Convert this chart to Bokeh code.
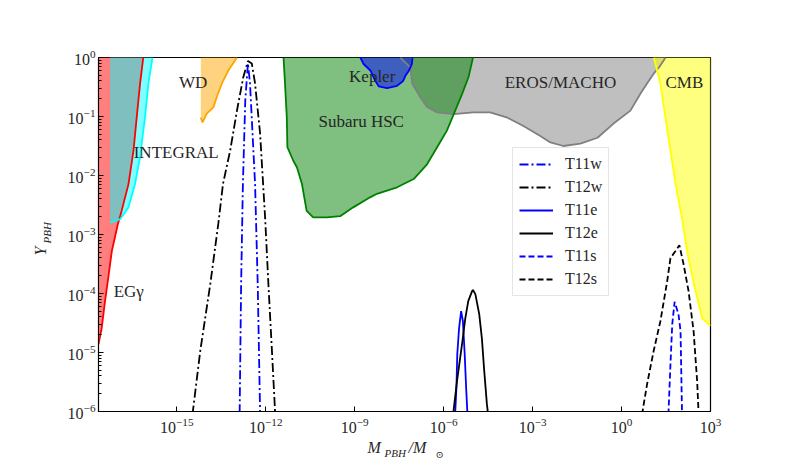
import math
from bokeh.plotting import figure
from bokeh.models import Label, Legend, LegendItem, FixedTicker, Range1d
from bokeh.embed import file_html
from bokeh.resources import INLINE

# ---------------- data (log10 of M_PBH/M_sun, log10 of Y_PBH) ----------------
x_log_range = (-17.64, 3.0)
y_log_range = (-6.0, 0.0)
x_major_exp = [-15, -12, -9, -6, -3, 0, 3]
y_major_exp = [-6, -5, -4, -3, -2, -1, 0]

egg_lx = [-17.64, -17.53, -17.42, -17.31, -17.19, -16.99, -16.86, -16.63, -16.46, -16.35, -16.24, -16.13]
egg_ly = [-4.86, -4.58, -4.13, -3.73, -3.28, -2.83, -2.60, -2.15, -1.58, -1.01, -0.45, 0.0]

integral_lx = [-17.25, -16.91, -16.63, -16.41, -16.24, -16.07, -15.96, -15.82]
integral_ly = [-2.80, -2.74, -2.54, -2.15, -1.69, -1.01, -0.45, 0.0]

wd_lx = [-14.19, -14.13, -13.99, -13.76, -13.65, -13.48, -13.26, -12.97]
wd_ly = [-1.02, -1.10, -0.95, -0.84, -0.67, -0.44, -0.22, 0.0]

hsc_lx = [-11.40, -11.35, -11.29, -11.27, -11.07, -10.95, -10.78, -10.70, -10.62, -10.40, -9.94, -9.49,
          -9.05, -8.48, -8.25, -7.57, -7.01, -6.56, -6.22, -5.89, -5.61, -5.38, -5.16, -5.01]
hsc_ly = [0.0, -0.44, -1.01, -1.52, -1.75, -1.86, -2.14, -2.37, -2.60, -2.71, -2.71, -2.69,
          -2.54, -2.37, -2.31, -2.20, -2.06, -1.81, -1.52, -1.24, -0.90, -0.62, -0.33, 0.0]

kepler_lx = [-8.81, -8.70, -8.47, -8.31, -8.19, -7.91, -7.57, -7.37, -7.29, -7.18, -7.07, -7.05]
kepler_ly = [0.0, -0.11, -0.22, -0.39, -0.49, -0.52, -0.48, -0.40, -0.31, -0.23, -0.11, 0.0]

eros_lx = [-7.46, -7.12, -7.06, -6.79, -6.56, -6.22, -5.66, -5.00, -4.43, -3.85, -3.31, -2.74,
           -2.40, -1.96, -1.39, -0.81, -0.27, 0.30, 0.64, 0.86, 1.09, 1.26, 1.42, 1.48]
eros_ly = [0.0, -0.17, -0.44, -0.67, -0.84, -0.93, -0.96, -0.93, -0.93, -1.02, -1.16, -1.33,
           -1.44, -1.50, -1.46, -1.36, -1.12, -0.90, -0.61, -0.44, -0.27, -0.17, -0.05, 0.0]

cmb_lx = [1.09, 1.31, 1.48, 1.65, 1.82, 2.04, 2.21, 2.44, 2.72, 3.0]
cmb_ly = [0.0, -0.44, -1.02, -1.58, -2.14, -2.72, -3.28, -3.84, -4.42, -4.55]

t12w_lx = [-14.47, -14.21, -13.87, -13.60, -13.44, -13.20, -12.97, -12.76, -12.60, -12.47, -12.36,
           -12.19, -12.02, -11.91, -11.79, -11.68]
t12w_ly = [-6.05, -4.98, -3.84, -2.82, -2.14, -1.58, -0.90, -0.34, -0.06, -0.10, -0.44,
           -1.29, -2.72, -3.84, -4.98, -6.05]

t11w_lx = [-12.88, -12.83, -12.77, -12.69, -12.60, -12.53, -12.36, -12.27, -12.19]
t11w_ly = [-6.03, -3.84, -2.14, -0.73, -0.10, -0.44, -2.14, -3.84, -6.03]

t11e_lx = [-5.61, -5.57, -5.54, -5.48, -5.41, -5.35, -5.29, -5.24, -5.20]
t11e_ly = [-6.02, -5.61, -5.03, -4.59, -4.30, -4.47, -5.03, -5.61, -6.02]

t12e_lx = [-5.68, -5.55, -5.38, -5.27, -5.17, -5.04, -5.01, -4.93, -4.80, -4.71, -4.63, -4.54, -4.50]
t12e_ly = [-6.05, -5.49, -4.86, -4.42, -4.13, -3.96, -3.94, -4.01, -4.35, -4.76, -5.32, -5.88, -6.05]

t12s_lx = [0.69, 0.86, 1.08, 1.31, 1.54, 1.65, 1.82, 1.95, 2.09, 2.26, 2.43, 2.55, 2.60]
t12s_ly = [-6.05, -5.54, -4.98, -4.47, -3.79, -3.40, -3.28, -3.18, -3.50, -3.96, -4.64, -5.49, -6.05]

t11s_lx = [1.58, 1.65, 1.71, 1.79, 1.92, 1.99, 2.01, 2.04]
t11s_ly = [-6.05, -5.20, -4.52, -4.14, -4.35, -4.64, -5.20, -6.05]

legend_labels = ["T11w", "T12w", "T11e", "T12e", "T11s", "T12s"]


def p10(vals):
    return [10.0 ** v for v in vals]


SERIF = "Liberation Serif, DejaVu Serif"
TXT = "#262626"

p = figure(width=773, height=466, x_axis_type="log", y_axis_type="log",
           x_range=Range1d(10 ** x_log_range[0], 10 ** x_log_range[1]),
           y_range=Range1d(10 ** y_log_range[0], 10 ** y_log_range[1]),
           output_backend="svg", toolbar_location=None,
           min_border_left=98, min_border_right=63, min_border_top=57, min_border_bottom=55)
p.background_fill_color = "white"
p.border_fill_color = "white"
p.outline_line_color = "black"
p.outline_line_width = 1.2
p.grid.visible = False

YT = 10 ** 0.5
XL = 1e-20
XH = 1e5

# ---- constraint fills ----
ex, ey = p10(egg_lx), p10(egg_ly)
p.patch([XL] + ex + [ex[-1], XL], [ey[0]] + ey + [YT, YT], fill_color="red", fill_alpha=0.5, line_alpha=0)
ix, iy = p10(integral_lx), p10(integral_ly)
p.patch([ix[0]] + ix + [ix[-1]], [YT] + iy + [YT], fill_color="cyan", fill_alpha=0.5, line_alpha=0)
wx, wy = p10(wd_lx), p10(wd_ly)
p.patch([wx[0]] + wx + [wx[-1]], [YT] + wy + [YT], fill_color="orange", fill_alpha=0.5, line_alpha=0)
gx, gy = p10(eros_lx), p10(eros_ly)
p.patch([gx[0]] + gx + [gx[-1]], [YT] + gy + [YT], fill_color="gray", fill_alpha=0.5, line_alpha=0)
hx, hy = p10(hsc_lx), p10(hsc_ly)
p.patch([hx[0]] + hx + [hx[-1]], [YT] + hy + [YT], fill_color="green", fill_alpha=0.5, line_alpha=0)
kx, ky = p10(kepler_lx), p10(kepler_ly)
p.patch([kx[0]] + kx + [kx[-1]], [YT] + ky + [YT], fill_color="blue", fill_alpha=0.5, line_alpha=0)
cx, cy = p10(cmb_lx), p10(cmb_ly)
p.patch([cx[0]] + cx + [XH, XH], [YT] + cy + [cy[-1], YT], fill_color="yellow", fill_alpha=0.5, line_alpha=0)

# ---- constraint edges ----
for xs, ys, col in [(ex, ey, "red"), (ix, iy, "cyan"), (wx, wy, "orange"), (gx, gy, "gray"),
                    (hx, hy, "green"), (kx, ky, "blue"), (cx, cy, "yellow")]:
    p.line(xs, ys, line_color=col, line_width=1.8)

# ---- region labels ----
for txt, lx, ly in [("WD", -14.45, -0.425), ("INTEGRAL", -15.02, -1.61), ("EGγ", -16.62, -3.96),
                    ("Kepler", -8.41, -0.32), ("Subaru HSC", -8.78, -1.08),
                    ("EROS/MACHO", -2.06, -0.43), ("CMB", 2.12, -0.43)]:
    p.add_layout(Label(x=10 ** lx, y=10 ** ly, text=txt, text_align="center", text_baseline="middle",
                       text_font=SERIF, text_font_size="17px", text_color=TXT))

# ---- mass spectra ----
DASHDOT = "9 3 2 3"
DASHED = "6 3"
r_t11w = p.line(p10(t11w_lx), p10(t11w_ly), line_color="blue", line_width=1.8, line_dash=DASHDOT)
r_t12w = p.line(p10(t12w_lx), p10(t12w_ly), line_color="black", line_width=1.8, line_dash=DASHDOT)
r_t11e = p.line(p10(t11e_lx), p10(t11e_ly), line_color="blue", line_width=1.8)
r_t12e = p.line(p10(t12e_lx), p10(t12e_ly), line_color="black", line_width=1.8)
r_t11s = p.line(p10(t11s_lx), p10(t11s_ly), line_color="blue", line_width=1.8, line_dash=DASHED)
r_t12s = p.line(p10(t12s_lx), p10(t12s_ly), line_color="black", line_width=1.8, line_dash=DASHED)

legend = Legend(items=[LegendItem(label=l, renderers=[r]) for l, r in
                       zip(legend_labels, [r_t11w, r_t12w, r_t11e, r_t12e, r_t11s, r_t12s])],
                location=(414, 115), label_text_font=SERIF, label_text_font_size="16px",
                label_text_color=TXT, glyph_width=34, glyph_height=20, label_height=20,
                label_standoff=12, spacing=3, padding=6, margin=0,
                border_line_color="#cccccc", border_line_width=1,
                background_fill_color="white", background_fill_alpha=0.8)
p.add_layout(legend, "center")

# ---- axes (default log formatter: 10 with superscript exponent) ----
p.xaxis.ticker = FixedTicker(ticks=[10.0 ** e for e in x_major_exp], minor_ticks=[])
y_minor = [k * 10.0 ** e for e in y_major_exp[:-1] for k in range(2, 10)]
p.yaxis.ticker = FixedTicker(ticks=[10.0 ** e for e in y_major_exp], minor_ticks=y_minor)
for ax in (p.xaxis[0], p.yaxis[0]):
    ax.major_tick_in = 5
    ax.major_tick_out = 0
    ax.minor_tick_in = 3
    ax.minor_tick_out = 0
    ax.axis_line_color = "black"
    ax.major_tick_line_color = "black"
    ax.minor_tick_line_color = "black"
    ax.major_label_text_font = SERIF
    ax.major_label_text_font_size = "16px"
    ax.major_label_text_color = TXT
p.xaxis.major_label_standoff = 6
p.yaxis.major_label_standoff = 3

# ---- axis titles (with subscripts); placed in side panels so they are not clipped ----
ang = math.pi / 2
def title_piece(side, x, y, text, size, italic=True, angle=0.0, align="left", baseline="middle"):
    p.add_layout(Label(x=x, y=y, x_units="canvas", y_units="canvas", text=text, angle=angle,
                       text_align=align, text_baseline=baseline, text_font=SERIF,
                       text_font_style="italic" if italic else "normal",
                       text_font_size=size, text_color=TXT), side)

title_piece("left", 40, 255, "Y", "16px", angle=ang)
title_piece("left", 46, 243, "PBH", "11px", angle=ang)
title_piece("above", 367, 447, "M", "16px")
title_piece("right", 384, 452, "PBH", "11px")
title_piece("above", 408, 447, "/M", "16px")
title_piece("right", 435, 454, "⊙", "10px", italic=False)

open("out.html", "w").write(file_html(p, INLINE))
